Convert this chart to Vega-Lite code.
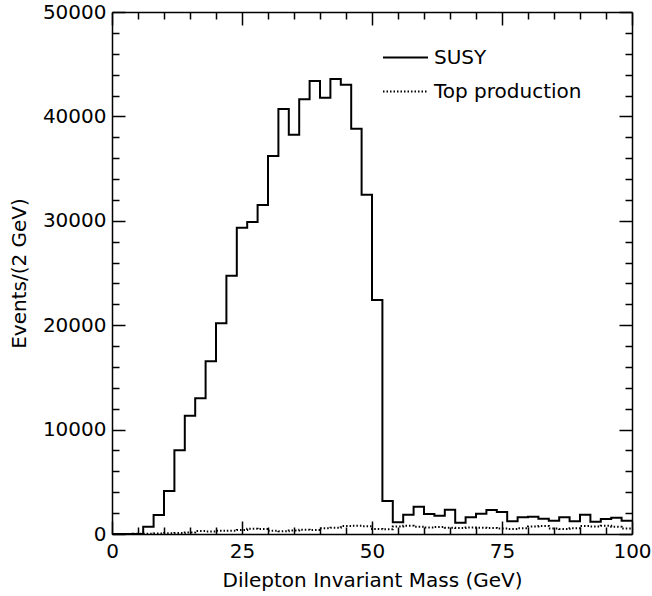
{
  "$schema": "https://vega.github.io/schema/vega-lite/v6.json",
  "autosize": {"type": "none"},
  "width": 520,
  "height": 522,
  "padding": {"left": 112, "top": 12, "right": 20, "bottom": 62},
  "background": "white",
  "config": {
    "view": {"stroke": null},
    "font": "DejaVu Sans",
    "axis": {
      "domainColor": "black", "domainWidth": 1.5,
      "tickColor": "black", "tickWidth": 1.5,
      "labelColor": "black", "labelFont": "DejaVu Sans", "labelFontSize": 20,
      "titleColor": "black", "titleFont": "DejaVu Sans", "titleFontSize": 20, "titleFontWeight": "normal",
      "grid": false
    }
  },
  "data": {"values": [
    {"x": 0, "v": 0, "s": "SUSY"}, {"x": 2, "v": 0, "s": "SUSY"}, {"x": 4, "v": 0, "s": "SUSY"},
    {"x": 6, "v": 700, "s": "SUSY"}, {"x": 8, "v": 1820, "s": "SUSY"}, {"x": 10, "v": 4120, "s": "SUSY"},
    {"x": 12, "v": 8020, "s": "SUSY"}, {"x": 14, "v": 11330, "s": "SUSY"}, {"x": 16, "v": 13000, "s": "SUSY"},
    {"x": 18, "v": 16540, "s": "SUSY"}, {"x": 20, "v": 20180, "s": "SUSY"}, {"x": 22, "v": 24740, "s": "SUSY"},
    {"x": 24, "v": 29340, "s": "SUSY"}, {"x": 26, "v": 29890, "s": "SUSY"}, {"x": 28, "v": 31510, "s": "SUSY"},
    {"x": 30, "v": 36210, "s": "SUSY"}, {"x": 32, "v": 40710, "s": "SUSY"}, {"x": 34, "v": 38250, "s": "SUSY"},
    {"x": 36, "v": 41640, "s": "SUSY"}, {"x": 38, "v": 43390, "s": "SUSY"}, {"x": 40, "v": 41790, "s": "SUSY"},
    {"x": 42, "v": 43580, "s": "SUSY"}, {"x": 44, "v": 43040, "s": "SUSY"}, {"x": 46, "v": 38820, "s": "SUSY"},
    {"x": 48, "v": 32500, "s": "SUSY"}, {"x": 50, "v": 22410, "s": "SUSY"}, {"x": 52, "v": 3160, "s": "SUSY"},
    {"x": 54, "v": 1120, "s": "SUSY"}, {"x": 56, "v": 1850, "s": "SUSY"}, {"x": 58, "v": 2620, "s": "SUSY"},
    {"x": 60, "v": 1920, "s": "SUSY"}, {"x": 62, "v": 1760, "s": "SUSY"}, {"x": 64, "v": 2330, "s": "SUSY"},
    {"x": 66, "v": 1080, "s": "SUSY"}, {"x": 68, "v": 1600, "s": "SUSY"}, {"x": 70, "v": 1950, "s": "SUSY"},
    {"x": 72, "v": 2300, "s": "SUSY"}, {"x": 74, "v": 2110, "s": "SUSY"}, {"x": 76, "v": 1210, "s": "SUSY"},
    {"x": 78, "v": 1600, "s": "SUSY"}, {"x": 80, "v": 1660, "s": "SUSY"}, {"x": 82, "v": 1470, "s": "SUSY"},
    {"x": 84, "v": 1280, "s": "SUSY"}, {"x": 86, "v": 1600, "s": "SUSY"}, {"x": 88, "v": 1210, "s": "SUSY"},
    {"x": 90, "v": 1850, "s": "SUSY"}, {"x": 92, "v": 1180, "s": "SUSY"}, {"x": 94, "v": 1440, "s": "SUSY"},
    {"x": 96, "v": 1560, "s": "SUSY"}, {"x": 98, "v": 1280, "s": "SUSY"}, {"x": 100, "v": 1280, "s": "SUSY"},
    {"x": 0, "v": 0, "s": "Top production"}, {"x": 2, "v": 0, "s": "Top production"}, {"x": 4, "v": 20, "s": "Top production"},
    {"x": 6, "v": 30, "s": "Top production"}, {"x": 8, "v": 50, "s": "Top production"}, {"x": 10, "v": 80, "s": "Top production"},
    {"x": 12, "v": 100, "s": "Top production"}, {"x": 14, "v": 150, "s": "Top production"}, {"x": 16, "v": 280, "s": "Top production"},
    {"x": 18, "v": 250, "s": "Top production"}, {"x": 20, "v": 320, "s": "Top production"}, {"x": 22, "v": 300, "s": "Top production"},
    {"x": 24, "v": 380, "s": "Top production"}, {"x": 26, "v": 500, "s": "Top production"}, {"x": 28, "v": 480, "s": "Top production"},
    {"x": 30, "v": 300, "s": "Top production"}, {"x": 32, "v": 260, "s": "Top production"}, {"x": 34, "v": 330, "s": "Top production"},
    {"x": 36, "v": 400, "s": "Top production"}, {"x": 38, "v": 380, "s": "Top production"}, {"x": 40, "v": 560, "s": "Top production"},
    {"x": 42, "v": 600, "s": "Top production"}, {"x": 44, "v": 760, "s": "Top production"}, {"x": 46, "v": 780, "s": "Top production"},
    {"x": 48, "v": 750, "s": "Top production"}, {"x": 50, "v": 480, "s": "Top production"}, {"x": 52, "v": 450, "s": "Top production"},
    {"x": 54, "v": 720, "s": "Top production"}, {"x": 56, "v": 780, "s": "Top production"}, {"x": 58, "v": 700, "s": "Top production"},
    {"x": 60, "v": 620, "s": "Top production"}, {"x": 62, "v": 680, "s": "Top production"}, {"x": 64, "v": 600, "s": "Top production"},
    {"x": 66, "v": 580, "s": "Top production"}, {"x": 68, "v": 620, "s": "Top production"}, {"x": 70, "v": 600, "s": "Top production"},
    {"x": 72, "v": 580, "s": "Top production"}, {"x": 74, "v": 520, "s": "Top production"}, {"x": 76, "v": 480, "s": "Top production"},
    {"x": 78, "v": 560, "s": "Top production"}, {"x": 80, "v": 720, "s": "Top production"}, {"x": 82, "v": 760, "s": "Top production"},
    {"x": 84, "v": 520, "s": "Top production"}, {"x": 86, "v": 480, "s": "Top production"}, {"x": 88, "v": 560, "s": "Top production"},
    {"x": 90, "v": 760, "s": "Top production"}, {"x": 92, "v": 720, "s": "Top production"}, {"x": 94, "v": 780, "s": "Top production"},
    {"x": 96, "v": 700, "s": "Top production"}, {"x": 98, "v": 520, "s": "Top production"}, {"x": 100, "v": 520, "s": "Top production"}
  ]},
  "layer": [
    {
      "mark": {"type": "line", "interpolate": "step-after", "color": "black", "strokeWidth": 2},
      "encoding": {
        "x": {"field": "x", "type": "quantitative",
          "scale": {"domain": [0, 100], "nice": false},
          "axis": {"orient": "bottom", "values": [0,5,10,15,20,25,30,35,40,45,50,55,60,65,70,75,80,85,90,95,100],
            "tickSize": {"condition": {"test": "datum.value % 25 === 0", "value": -13}, "value": -7},
            "labelExpr": "datum.value % 25 === 0 ? datum.label : ''",
            "labelPadding": 20, "labelFlush": false, "labelOverlap": false,
            "title": "Dilepton Invariant Mass (GeV)", "titlePadding": 3}},
        "y": {"field": "v", "type": "quantitative",
          "scale": {"domain": [0, 50000], "nice": false},
          "axis": {"orient": "left", "values": [0,2000,4000,6000,8000,10000,12000,14000,16000,18000,20000,22000,24000,26000,28000,30000,32000,34000,36000,38000,40000,42000,44000,46000,48000,50000],
            "tickSize": {"condition": {"test": "datum.value % 10000 === 0", "value": -13}, "value": -7},
            "labelExpr": "datum.value % 10000 === 0 ? datum.label : ''",
            "format": "d", "labelPadding": 19, "labelFlush": false, "labelOverlap": false,
            "title": "Events/(2 GeV)", "titlePadding": 13}},
        "strokeDash": {"field": "s", "type": "nominal",
          "scale": {"domain": ["SUSY", "Top production"], "range": [[1, 0], [1.5, 2]]},
          "legend": {"orient": "none", "legendX": 270, "legendY": 22, "title": null,
            "symbolType": "stroke", "symbolSize": 2025, "symbolStrokeColor": "black", "symbolStrokeWidth": 2,
            "labelFont": "DejaVu Sans", "labelFontSize": 20, "labelColor": "black", "labelOffset": 5, "rowPadding": -21}}
      }
    },
    {
      "mark": {"type": "line", "interpolate": "step-after", "strokeOpacity": 0},
      "encoding": {
        "detail": {"field": "s"},
        "x": {"field": "x", "type": "quantitative",
          "axis": {"orient": "top", "values": [0,5,10,15,20,25,30,35,40,45,50,55,60,65,70,75,80,85,90,95,100],
            "tickSize": {"condition": {"test": "datum.value % 25 === 0", "value": -13}, "value": -7},
            "labels": false, "title": null}},
        "y": {"field": "v", "type": "quantitative",
          "axis": {"orient": "right", "values": [0,2000,4000,6000,8000,10000,12000,14000,16000,18000,20000,22000,24000,26000,28000,30000,32000,34000,36000,38000,40000,42000,44000,46000,48000,50000],
            "tickSize": {"condition": {"test": "datum.value % 10000 === 0", "value": -13}, "value": -7},
            "labels": false, "title": null}}
      }
    }
  ],
  "resolve": {"axis": {"x": "independent", "y": "independent"}}
}
